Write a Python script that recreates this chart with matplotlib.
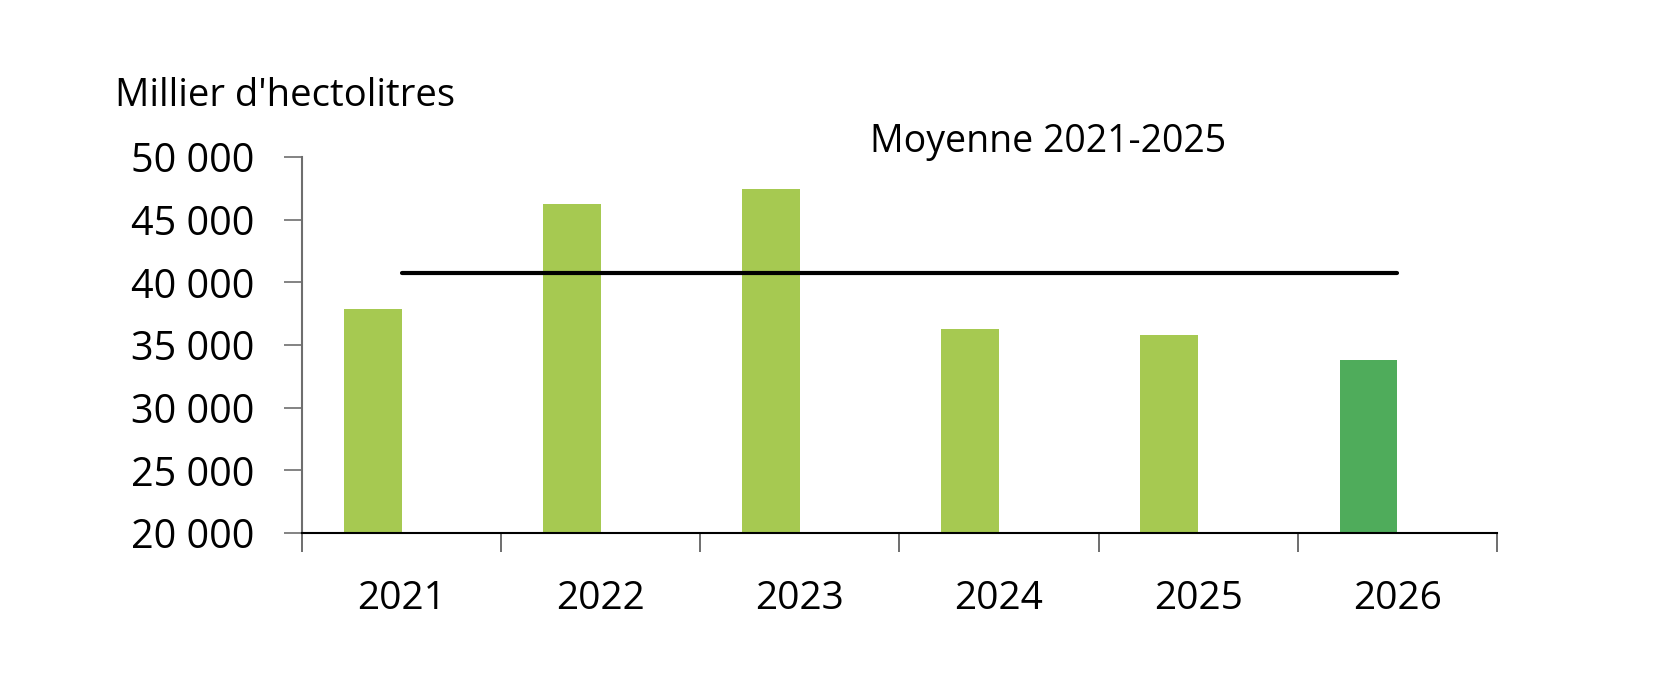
import numpy as np
import matplotlib.pyplot as plt
from matplotlib.ticker import FixedLocator

# Data
years = ["2021", "2022", "2023", "2024", "2025", "2026"]
volumes = [37850, 46250, 47450, 36300, 35800, 33800]
bar_colors = ["#a6c951", "#a6c951", "#a6c951", "#a6c951", "#a6c951", "#4fac5b"]
moyenne_value = 40750
moyenne_label = "Moyenne 2021-2025"
y_ticks = [20000, 25000, 30000, 35000, 40000, 45000, 50000]

plt.rcParams["font.family"] = ["Open Sans", "DejaVu Sans"]

fig = plt.figure(figsize=(16.7, 6.92), dpi=100)
ax = fig.add_axes([0.1808, 0.2298, 0.7156, 0.5433])

x = np.arange(len(years))
bar_width = 0.29
ax.bar(x - bar_width / 2, volumes, width=bar_width, color=bar_colors, zorder=2)

# Average line from first to last category centre
ax.plot([x[0], x[-1]], [moyenne_value, moyenne_value], color="black",
        linewidth=3, solid_capstyle="round", zorder=3)

ax.set_xlim(-0.5, len(years) - 0.5)
ax.set_ylim(20000, 50000)

# y axis
ax.set_yticks(y_ticks)
ax.set_yticklabels([f"{v:,}".replace(",", " ") for v in y_ticks], fontsize=28.5)
ax.tick_params(axis="y", length=13, width=1.2, color="#6e6e6e", pad=21)

# x axis: labels at centres, ticks at boundaries
ax.set_xticks(x)
ax.set_xticklabels(years, fontsize=28)
ax.tick_params(axis="x", which="major", length=0, pad=34)
ax.xaxis.set_minor_locator(FixedLocator(np.arange(-0.5, len(years), 1.0)))
ax.tick_params(axis="x", which="minor", length=14, width=1.2, color="#555555")

for side in ["top", "right"]:
    ax.spines[side].set_visible(False)
ax.spines["left"].set_color("#6e6e6e")
ax.spines["left"].set_linewidth(1.5)
ax.spines["bottom"].set_color("black")
ax.spines["bottom"].set_linewidth(1.5)
ax.spines["bottom"].set_zorder(4)

fig.text(0.069, 0.861, "Millier d'hectolitres", fontsize=27.5, va="center", ha="left")
fig.text(0.6275, 0.795, moyenne_label, fontsize=27, va="center", ha="center")

fig.savefig("out.png", dpi=100)
